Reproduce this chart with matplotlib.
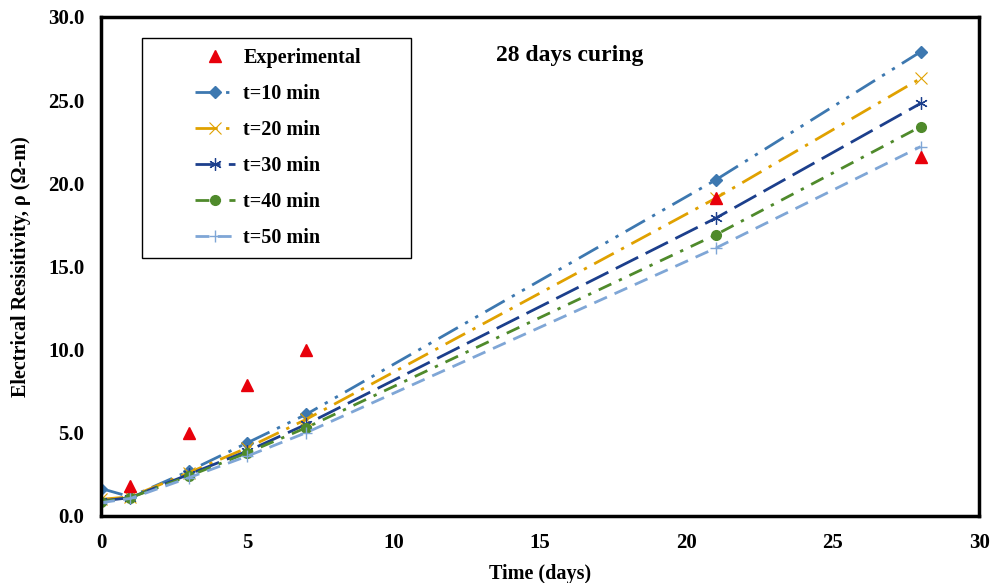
import numpy as np
import matplotlib.pyplot as plt
from matplotlib.patches import Rectangle

plt.rcParams['font.family'] = ['Liberation Serif', 'DejaVu Serif']
plt.rcParams['font.weight'] = 'bold'

days = [0, 1, 3, 5, 7, 21, 28]
exp_days = [1, 3, 5, 7, 21, 28]
experimental = [1.8, 5.0, 7.9, 10.0, 19.1, 21.6]

t10 = [1.65, 1.15, 2.7, 4.4, 6.1, 20.2, 27.9]
t20 = [1.0, 1.15, 2.6, 4.1, 5.8, 19.1, 26.3]
t30 = [0.9, 1.1, 2.5, 3.9, 5.5, 17.9, 24.8]
t40 = [0.85, 1.1, 2.4, 3.8, 5.3, 16.9, 23.4]
t50 = [0.8, 1.05, 2.3, 3.6, 5.0, 16.1, 22.2]

fig = plt.figure(figsize=(9.91, 5.83), dpi=100)
ax = fig.add_axes([0.102, 0.115, 0.886, 0.856])

ax.plot(exp_days, experimental, '^', color='#E8000B', markersize=8,
        linestyle='none', label='Experimental', zorder=5)
ax.plot(days, t10, color='#3D78B0', lw=2, dashes=(8, 3, 1.2, 3, 1.2, 3),
        marker='D', markersize=6, label='t=10 min')
ax.plot(days, t20, color='#E0A100', lw=2, dashes=(8, 3, 1.2, 3),
        marker='x', markersize=8, markeredgewidth=0.8, label='t=20 min')
ax.plot(days, t30, color='#1C3F8C', lw=2, dashes=(9, 3),
        marker=(6, 2, 0), markersize=9, markeredgewidth=0.9, label='t=30 min')
ax.plot(days, t40, color='#4F8A2B', lw=2, dashes=(5, 3, 1.2, 3),
        marker='o', markersize=7, label='t=40 min')
ax.plot(days, t50, color='#7FA6D6', lw=2, dashes=(5, 3),
        marker='+', markersize=8, markeredgewidth=1, label='t=50 min')

ax.set_xlim(0, 30)
ax.set_ylim(0, 30)
ax.set_xticks(np.arange(0, 31, 5))
ax.set_yticks(np.arange(0, 31, 5))
ax.set_yticklabels([f'{v:.1f}' for v in np.arange(0, 31, 5)])
ax.tick_params(length=0, labelsize=15)
ax.tick_params(axis='y', pad=12)
ax.tick_params(axis='x', pad=12)
for s in ax.spines.values():
    s.set_linewidth(2.5)

ax.set_xlabel('Time (days)', fontsize=14.5, fontweight='bold', labelpad=8)
ax.set_ylabel('Electrical Resisitivity, ρ (Ω-m)', fontsize=14.5, fontweight='bold', labelpad=12)

ax.text(16.0, 27.7, '28 days curing', fontsize=17, fontweight='bold',
        ha='center', va='center')

# legend box drawn by hand (Excel style: wide, with space on the right)
ax.add_patch(Rectangle((0.047, 0.517), 0.306, 0.441, transform=ax.transAxes,
                       facecolor='white', edgecolor='black', lw=1, zorder=6))
leg = ax.legend(loc='upper left', bbox_to_anchor=(0.107, 0.938), fontsize=14.5,
                frameon=False, numpoints=1, handlelength=2.0, labelspacing=0.8,
                borderpad=0, handletextpad=0.4, borderaxespad=0)
leg.set_zorder(7)

fig.savefig('out.png', dpi=100)
